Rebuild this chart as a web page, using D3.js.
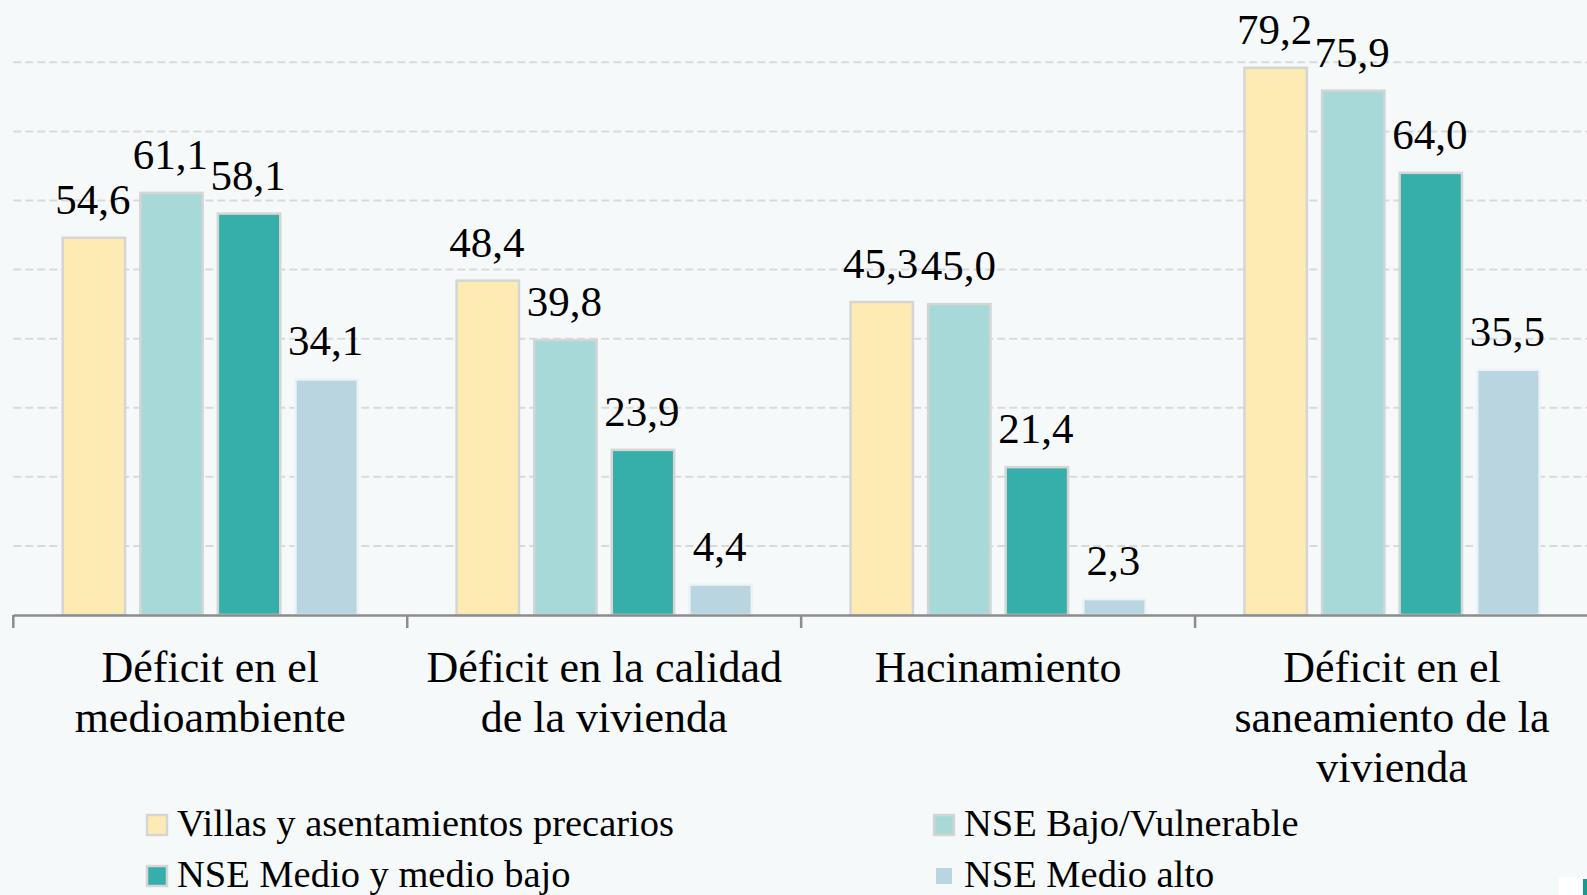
<!DOCTYPE html>
<html>
<head>
<meta charset="utf-8">
<script src="https://cdn.jsdelivr.net/npm/d3@7"></script>
<style>
  body { margin: 0; background: #f6f9fa; }
  svg { display: block; }
  text { font-family: "Liberation Serif", "Times New Roman", serif; fill: #000; }
</style>
</head>
<body>
<div id="chart"></div>
<script>
// categories (each one split into its label lines)
var categories = ["medioambiente", "calidad", "hacinamiento", "saneamiento"];
var categoryLines = [
  ["Déficit en el", "medioambiente"],
  ["Déficit en la calidad", "de la vivienda"],
  ["Hacinamiento"],
  ["Déficit en el", "saneamiento de la", "vivienda"]
];

// series names and values
var series = ["Villas y asentamientos precarios", "NSE Bajo/Vulnerable", "NSE Medio y medio bajo", "NSE Medio alto"];
var villas = [54.6, 48.4, 45.3, 79.2];
var bajo   = [61.1, 39.8, 45.0, 75.9];
var medio  = [58.1, 23.9, 21.4, 64.0];
var alto   = [34.1, 4.4, 2.3, 35.5];
var gridTicks = [10, 20, 30, 40, 50, 60, 70, 80];

var colors  = ["#feebb3", "#a7d9d8", "#36afab", "#b8d5e0"];
var borders = ["#d5d5d5", "#d5d5d5", "#d5d5d5", "#edf3f5"];

var width = 1587, height = 895;

var svg = d3.select("#chart").append("svg")
    .attr("width", width)
    .attr("height", height);

svg.append("rect").attr("width", width).attr("height", height).attr("fill", "#f6f9fa");

var table = categories.map(function(c, i) {
  return { cat: c, vals: [villas[i], bajo[i], medio[i], alto[i]] };
});

//scales
var x0 = d3.scaleBand().domain(categories).range([13.3, 1589]).padding(0);
var x1 = d3.scaleBand().domain(series).range([48.4, x0.bandwidth() - 48.4]).paddingInner(0.17);
var y = d3.scaleLinear().domain([0, 80]).range([615, 62.3]);

var fmt = function(v) { return d3.format(".1f")(v).replace(".", ","); };

//dashed gridlines
svg.append("g").selectAll("line")
  .data(gridTicks).enter().append("line")
    .attr("x1", 13.3).attr("x2", width)
    .attr("y1", function(d) { return y(d); })
    .attr("y2", function(d) { return y(d); })
    .attr("stroke", "#d9d9d9")
    .attr("stroke-width", 2)
    .attr("stroke-dasharray", "8,4");

//bars
var groups = svg.append("g").selectAll("g")
  .data(table).enter().append("g")
    .attr("transform", function(d) { return "translate(" + x0(d.cat) + ",0)"; });

groups.selectAll("rect")
  .data(function(d) { return d.vals.map(function(v, j) { return { s: series[j], v: v, j: j }; }); })
  .enter().append("rect")
    .attr("x", function(d) { return x1(d.s) + 1; })
    .attr("width", x1.bandwidth() - 2)
    .attr("y", function(d) { return y(d.v); })
    .attr("height", function(d) { return y(0) - y(d.v); })
    .attr("fill", function(d) { return colors[d.j]; })
    .attr("stroke", function(d) { return borders[d.j]; })
    .attr("stroke-width", 2.5);

groups.selectAll("text.val")
  .data(function(d) { return d.vals.map(function(v, j) { return { s: series[j], v: v }; }); })
  .enter().append("text")
    .attr("class", "val")
    .attr("x", function(d) { return x1(d.s) + x1.bandwidth() / 2 - 1; })
    .attr("y", function(d) { return y(d.v) - 24; })
    .attr("text-anchor", "middle")
    .style("font-size", "43px")
    .text(function(d) { return fmt(d.v); });

//x axis
var axis = svg.append("g")
    .attr("transform", "translate(0," + y(0) + ")")
    .call(d3.axisBottom(x0).tickSize(0).tickFormat(""));
axis.select(".domain").attr("stroke", "#8c8c8c").attr("stroke-width", 2.5);
axis.selectAll(".tick").remove();

svg.append("g").selectAll("line")
  .data(categories.concat(["end"])).enter().append("line")
    .attr("x1", function(d, i) { return x0.range()[0] + i * x0.step(); })
    .attr("x2", function(d, i) { return x0.range()[0] + i * x0.step(); })
    .attr("y1", y(0)).attr("y2", y(0) + 13)
    .attr("stroke", "#8c8c8c").attr("stroke-width", 2.5);

//category labels
svg.append("g").selectAll("text")
  .data(categories).enter().append("text")
    .attr("x", function(d) { return x0(d) + x0.bandwidth() / 2; })
    .attr("y", 682)
    .attr("text-anchor", "middle")
    .style("font-size", "44px")
  .selectAll("tspan")
    .data(function(d, i) { return categoryLines[i]; })
    .enter().append("tspan")
      .attr("x", function() { return d3.select(this.parentNode).attr("x"); })
      .attr("dy", function(d, i) { return i ? 50 : 0; })
      .text(function(d) { return d; });

//legend
var legendPos = [[146, 836], [933, 836], [146, 887], [933, 887]];
var leg = svg.append("g").selectAll("g")
  .data(series).enter().append("g")
    .attr("transform", function(d, i) { return "translate(" + legendPos[i][0] + "," + legendPos[i][1] + ")"; });

leg.append("rect")
    .attr("x", function(d, i) { return i == 3 ? 3 : 1; })
    .attr("y", function(d, i) { return i == 3 ? -19 : -21; })
    .attr("width", function(d, i) { return i == 3 ? 16 : 20; })
    .attr("height", function(d, i) { return i == 3 ? 16 : 20; })
    .attr("fill", function(d, i) { return colors[i]; })
    .attr("stroke", function(d, i) { return i == 3 ? "none" : "#d5d5d5"; })
    .attr("stroke-width", 2.5);

leg.append("text")
    .attr("x", 31)
    .attr("y", 0)
    .style("font-size", "38.5px")
    .text(function(d) { return d; });

//small cut-off mark in the corner
svg.append("rect").attr("x", 1559).attr("y", 877).attr("width", 28).attr("height", 18).attr("fill", "#ffffff");
svg.append("rect").attr("x", 1583).attr("y", 879).attr("width", 4).attr("height", 16).attr("fill", "#1a9a8c");
</script>
</body>
</html>
